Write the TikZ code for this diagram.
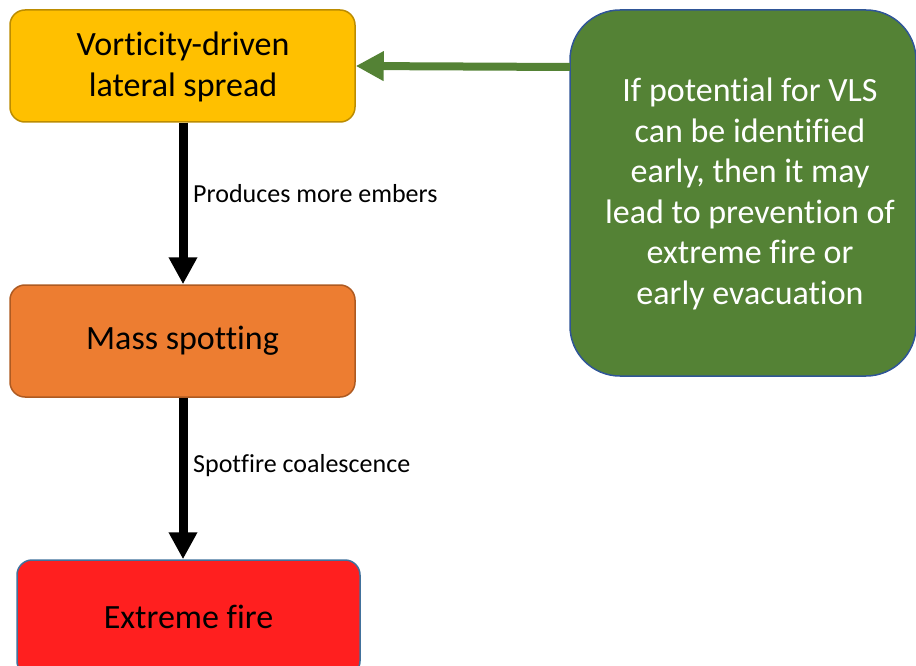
\documentclass[tikz,border=0pt]{standalone}
\usepackage{fontspec}
\setmainfont{Carlito}[Ligatures=NoCommon]
\usetikzlibrary{arrows.meta}

\definecolor{vlsfill}{HTML}{FFC000}
\definecolor{vlsline}{HTML}{BC8C00}
\definecolor{spotfill}{HTML}{ED7D31}
\definecolor{spotline}{HTML}{AE5A21}
\definecolor{firefill}{HTML}{FF1F1F}
\definecolor{boxblue}{HTML}{41719C}
\definecolor{leafgreen}{HTML}{548235}
\definecolor{deepblue}{HTML}{2F5597}

\begin{document}
\begin{tikzpicture}[x=1pt, y=-1pt,
  stage/.style={draw, line width=1.5pt, rounded corners=15pt, align=center,
    minimum width=345pt, minimum height=112pt, inner sep=0pt,
    font=\fontsize{34}{41}\selectfont},
  causes/.style={line width=9pt, -{Triangle[width=27pt,length=27pt]}},
  why/.style={anchor=west, inner sep=0pt, font=\fontsize{26}{30}\selectfont}]
 \useasboundingbox (0,0) rectangle (916,666);
 \clip (0,0) rectangle (916,666);

 % the chain
 \node[stage, fill=vlsfill, draw=vlsline] (vls) at (182.5,66) {};
 \node[align=center, inner sep=0pt, font=\fontsize{34}{41}\selectfont]
   (vlstext) at (183,67) {Vorticity-driven\\lateral spread};
 \node[stage, fill=spotfill, draw=spotline] (spot) at (182.5,341) {Mass spotting};
 \node[stage, fill=firefill, draw=boxblue, minimum width=343pt,
   minimum height=116pt] (fire) at (188.5,618) {\raisebox{3pt}{Extreme fire}};

 \draw[causes] (vls.south -| 183,0) -- (spot.north -| 183,0);
 \draw[causes] (spot.south -| 183,0) -- (fire.north -| 183,0);
 \node[why] (embers) at (193,194) {Produces more embers};
 \node[why] (merge) at (193,466) {Spotfire coalescence};

 % early warning
 \node[stage, fill=leafgreen, draw=deepblue, rounded corners=50pt,
   minimum width=346pt, minimum height=366pt] (warn) at (743,193) {};
 \node[align=center, text=white, inner sep=0pt, font=\fontsize{34}{40.5}\selectfont]
   (warntext) at (750,194)
   {If potential for VLS\\can be identified\\early, then it may\\lead to prevention of\\extreme fire or\\early evacuation};
 \coordinate (warnleft) at (570,67);
 \draw[leafgreen, line width=8pt, -{Triangle[width=28pt,length=28pt]}]
   (warnleft) -- (vls.east);
\end{tikzpicture}
\end{document}
